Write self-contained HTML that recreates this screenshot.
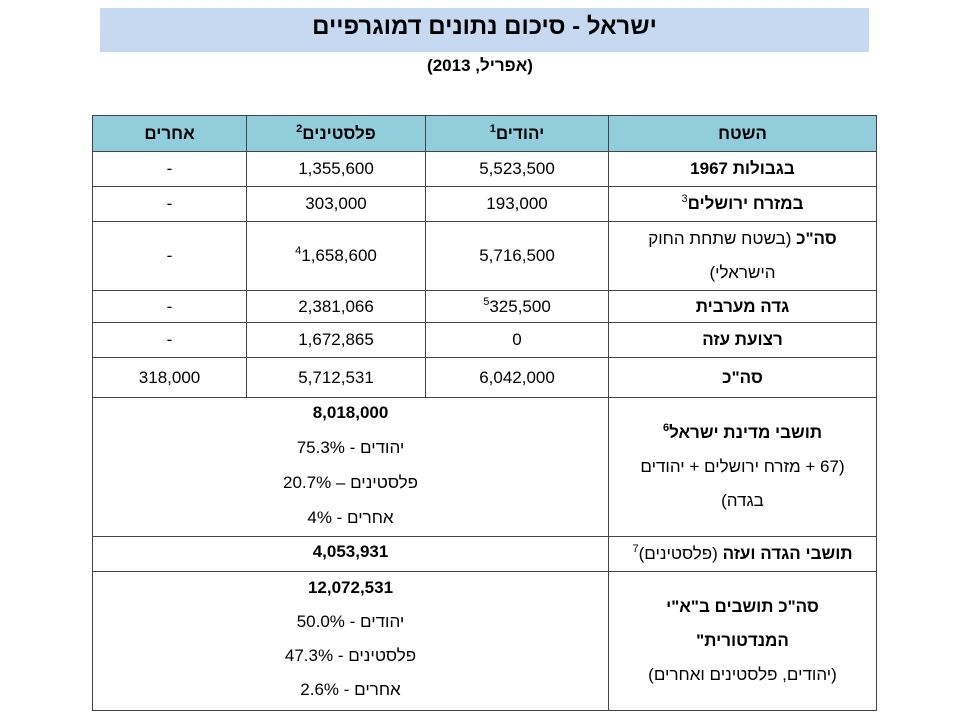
<!DOCTYPE html>
<html><head><meta charset="utf-8"><style>
body{margin:0;width:960px;height:720px;background:#fff;position:relative;overflow:hidden;font-family:"Liberation Sans Narrow","Liberation Sans","DejaVu Sans",sans-serif;color:#000}
.bar{position:absolute;left:100px;top:8px;width:769px;height:44px;background:#c6d9f1;text-align:center;font-weight:bold;font-size:24px;line-height:38px;direction:rtl}
.sub{position:absolute;left:0;width:960px;top:56px;text-align:center;font-weight:bold;font-size:17px;direction:rtl}
.c{position:absolute;box-sizing:border-box;border:1px solid #444;display:flex;flex-direction:column;justify-content:center;align-items:center;text-align:center;direction:rtl;font-size:17px;line-height:34px}
.h{background:#92cddc;font-weight:bold}
b{font-weight:bold}
sup{font-size:11px;line-height:0;vertical-align:7px;font-weight:bold}
.t{justify-content:flex-start;padding-top:0}
</style></head><body>
<div class="bar">ישראל - סיכום נתונים דמוגרפיים</div>
<div class="sub">(אפריל, 2013)</div>

<div class="c h" style="left:608px;top:115px;width:269px;height:37px">השטח</div>
<div class="c h" style="left:425px;top:115px;width:184px;height:37px"><span>יהודים<sup>1</sup></span></div>
<div class="c h" style="left:246px;top:115px;width:180px;height:37px"><span>פלסטינים<sup>2</sup></span></div>
<div class="c h" style="left:92px;top:115px;width:155px;height:37px">אחרים</div>

<div class="c" style="left:608px;top:151px;width:269px;height:36px"><b>בגבולות 1967</b></div>
<div class="c" style="left:425px;top:151px;width:184px;height:36px">5,523,500</div>
<div class="c" style="left:246px;top:151px;width:180px;height:36px">1,355,600</div>
<div class="c" style="left:92px;top:151px;width:155px;height:36px">-</div>

<div class="c" style="left:608px;top:186px;width:269px;height:36px"><span><b>במזרח ירושלים</b><sup style="font-weight:normal">3</sup></span></div>
<div class="c" style="left:425px;top:186px;width:184px;height:36px">193,000</div>
<div class="c" style="left:246px;top:186px;width:180px;height:36px">303,000</div>
<div class="c" style="left:92px;top:186px;width:155px;height:36px">-</div>

<div class="c" style="left:608px;top:221px;width:269px;height:70px"><span><b>סה"כ</b> (בשטח שתחת החוק</span><span>הישראלי)</span></div>
<div class="c" style="left:425px;top:221px;width:184px;height:70px">5,716,500</div>
<div class="c" style="left:246px;top:221px;width:180px;height:70px"><span><sup style="font-weight:normal">4</sup>1,658,600</span></div>
<div class="c" style="left:92px;top:221px;width:155px;height:70px">-</div>

<div class="c" style="left:608px;top:290px;width:269px;height:33px"><b>גדה מערבית</b></div>
<div class="c" style="left:425px;top:290px;width:184px;height:33px"><span><sup style="font-weight:normal">5</sup>325,500</span></div>
<div class="c" style="left:246px;top:290px;width:180px;height:33px">2,381,066</div>
<div class="c" style="left:92px;top:290px;width:155px;height:33px">-</div>

<div class="c" style="left:608px;top:322px;width:269px;height:36px"><b>רצועת עזה</b></div>
<div class="c" style="left:425px;top:322px;width:184px;height:36px">0</div>
<div class="c" style="left:246px;top:322px;width:180px;height:36px">1,672,865</div>
<div class="c" style="left:92px;top:322px;width:155px;height:36px">-</div>

<div class="c" style="left:608px;top:357px;width:269px;height:41px"><b>סה"כ</b></div>
<div class="c" style="left:425px;top:357px;width:184px;height:41px">6,042,000</div>
<div class="c" style="left:246px;top:357px;width:180px;height:41px">5,712,531</div>
<div class="c" style="left:92px;top:357px;width:155px;height:41px">318,000</div>

<div class="c" style="left:608px;top:397px;width:269px;height:140px"><span><b>תושבי מדינת ישראל<sup>6</sup></b></span><span>(67 + מזרח ירושלים + יהודים</span><span>בגדה)</span></div>
<div class="c" style="left:92px;top:397px;width:517px;height:140px;line-height:35px;padding-bottom:4px"><b>8,018,000</b><span>יהודים - 75.3%</span><span>פלסטינים – 20.7%</span><span>אחרים - 4%</span></div>

<div class="c" style="left:608px;top:536px;width:269px;height:36px"><span><b>תושבי הגדה ועזה</b> (פלסטינים)<sup style="font-weight:normal">7</sup></span></div>
<div class="c" style="left:92px;top:536px;width:517px;height:36px;padding-bottom:4px"><b>4,053,931</b></div>

<div class="c" style="left:608px;top:571px;width:269px;height:140px"><b>סה"כ תושבים ב"א"י</b><b>המנדטורית"</b><span>(יהודים, פלסטינים ואחרים)</span></div>
<div class="c" style="left:92px;top:571px;width:517px;height:140px;padding-bottom:4px"><b>12,072,531</b><span>יהודים - 50.0%</span><span>פלסטינים - 47.3%</span><span>אחרים - 2.6%</span></div>
</body></html>
